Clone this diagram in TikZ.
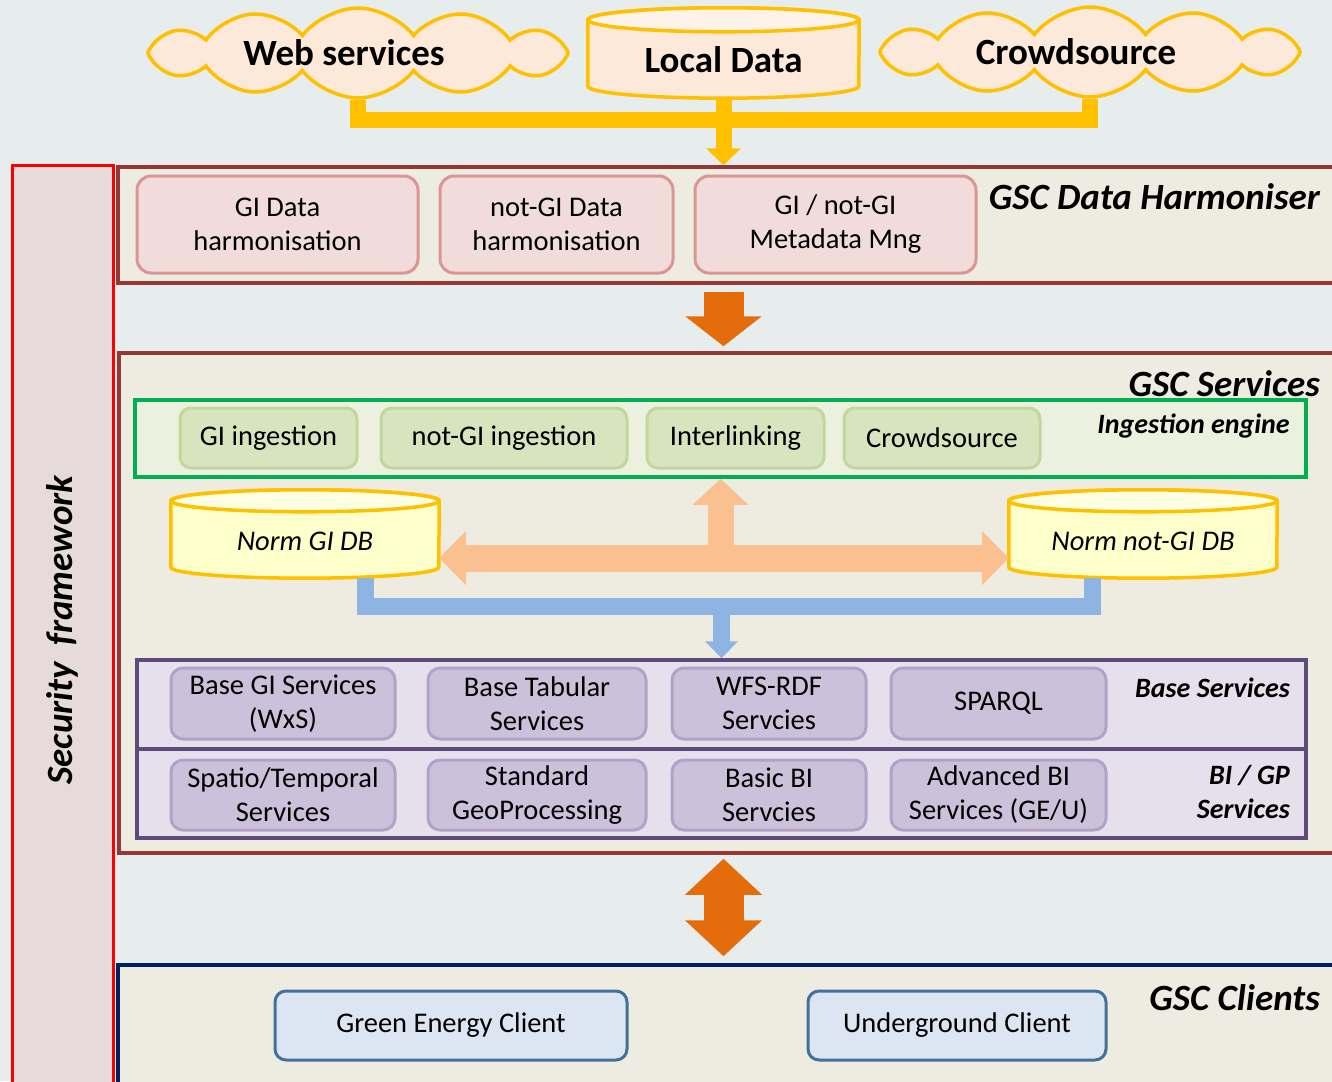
\documentclass[tikz,border=0pt]{standalone}
\usepackage{fontspec}
\setmainfont{Carlito}
\usetikzlibrary{shapes.symbols,arrows.meta}

\definecolor{bgcol}{RGB}{231,236,236}
\definecolor{secfill}{RGB}{230,218,219}
\definecolor{panelfill}{RGB}{238,236,225}
\definecolor{panelred}{RGB}{149,55,53}
\definecolor{pinkfill}{RGB}{242,220,219}
\definecolor{pinkline}{RGB}{217,150,148}
\definecolor{gold}{RGB}{255,192,0}
\definecolor{cloudfill}{RGB}{253,233,217}
\definecolor{cloudtop}{RGB}{254,242,233}
\definecolor{dbfill}{RGB}{255,255,204}
\definecolor{dbtop}{RGB}{255,255,225}
\definecolor{greenframe}{RGB}{0,176,80}
\definecolor{greenpanel}{RGB}{235,241,222}
\definecolor{greenfill}{RGB}{215,228,189}
\definecolor{greenline}{RGB}{195,214,155}
\definecolor{peach}{RGB}{250,192,144}
\definecolor{bluebar}{RGB}{142,180,227}
\definecolor{purpleframe}{RGB}{96,74,123}
\definecolor{purplepanel}{RGB}{229,224,236}
\definecolor{purplefill}{RGB}{204,193,218}
\definecolor{purpleline}{RGB}{179,162,199}
\definecolor{orangearr}{RGB}{228,108,10}
\definecolor{navy}{RGB}{0,32,96}
\definecolor{clientfill}{RGB}{220,230,242}
\definecolor{clientline}{RGB}{65,113,156}

\pgfdeclarelayer{bg}
\pgfdeclarelayer{back}
\pgfsetlayers{bg,back,main}

\tikzset{
  panel/.style={draw=panelred,line width=3.5pt,fill=panelfill,inner sep=0pt},
  title/.style={anchor=east,font=\fontsize{37}{40}\selectfont\bfseries\itshape,inner sep=0pt},
  subtitle/.style={anchor=east,align=right,inner sep=0pt,font=\fontsize{28}{34}\selectfont\bfseries\itshape},
  boxtext/.style={align=center,inner sep=0pt,font=\fontsize{28.5}{34}\selectfont},
  pinkbox/.style={boxtext,draw=pinkline,fill=pinkfill,line width=3pt,rounded corners=14pt,minimum height=97pt},
  greenbox/.style={boxtext,draw=greenline,fill=greenfill,line width=3pt,rounded corners=11pt,minimum height=60pt},
  purplebox/.style={boxtext,draw=purpleline,fill=purplefill,line width=3pt,rounded corners=12pt},
  clientbox/.style={boxtext,draw=clientline,fill=clientfill,line width=3pt,rounded corners=11pt,minimum height=69pt},
  srcfont/.style={font=\fontsize{37}{40}\selectfont\bfseries},
  cloudsrc/.style={srcfont,draw=gold,fill=cloudfill,line width=3.5pt,inner sep=0pt,cloud,cloud puffs=12,cloud puff arc=105,
    cloud ignores aspect,minimum width=420pt,minimum height=90pt},
  canbox/.style={inner sep=0pt},
  localcan/.style={draw=gold,fill=cloudfill,line width=3.5pt},
  dbcan/.style={draw=gold,fill=dbfill,line width=3.5pt},
  dbtext/.style={inner sep=0pt,font=\fontsize{28.5}{34}\selectfont\itshape},
}

% can shape round an empty node: #1 node, #2 x radius, #3 y radius, #4 style, #5 top colour
\newcommand\drawcan[5]{%
  \filldraw[#4] ([yshift=-#3pt]#1.north west) -- ([yshift=#3pt]#1.south west)
    arc[start angle=180,end angle=360,x radius=#2pt,y radius=#3pt]
    -- ([yshift=-#3pt]#1.north east)
    arc[start angle=0,end angle=180,x radius=#2pt,y radius=#3pt] -- cycle;
  \filldraw[#4,fill=#5] ([yshift=-#3pt]#1.north) ellipse[x radius=#2pt,y radius=#3pt];}

\begin{document}
\begin{tikzpicture}[x=1pt,y=-1pt]
\begin{pgfonlayer}{bg}
\fill[bgcol] (0,0) rectangle (1332,1081); %background
\end{pgfonlayer}
\clip (0,0) rectangle (1332,1081);

% data sources
\node[cloudsrc] (websvc) at (358,53) {Web services\hspace*{28pt}};
\node[cloudsrc] (crowdsrc) at (1090,52) {Crowdsource\hspace*{28pt}};
\node[canbox,minimum width=271pt,minimum height=90pt] (localdata) at (723.5,53) {};
\drawcan{localdata}{135.5}{12}{localcan}{cloudtop}
\node[srcfont,inner sep=0pt] (localtxt) at (723.5,60) {Local Data};

% security framework
\node[draw=red,line width=3pt,fill=secfill,rotate=90,minimum width=930pt,minimum height=101pt,
      font=\fontsize{37}{40}\selectfont\bfseries\itshape] (security) at (62.5,630) {Security\ \ framework};

% harmoniser
\node[panel,minimum width=1227pt,minimum height=116pt] (harmoniser) at (731.5,225) {};
\node[title] (harmtitle) at (1320,197) {GSC Data Harmoniser};
\node[pinkbox,minimum width=281pt] (gidata) at (277.5,224.5) {GI Data\\harmonisation};
\node[pinkbox,minimum width=233pt] (notgidata) at (556.5,224.5) {not-GI Data\\harmonisation};
\node[pinkbox,minimum width=281pt] (metadata) at (835.5,224.5) {GI / not-GI\\Metadata Mng};

% services
\node[panel,minimum width=1226pt,minimum height=500pt] (services) at (732,603) {};
\node[title] (servtitle) at (1320,384) {GSC Services};
\node[draw=greenframe,line width=3.5pt,fill=greenpanel,minimum width=1171pt,minimum height=77pt] (ingest) at (720.5,438.5) {};
\node[subtitle] (ingesttitle) at (1290,426) {Ingestion engine};
\node[greenbox,minimum width=177pt] (giing) at (268.5,438) {GI ingestion};
\node[greenbox,minimum width=246pt] (notgiing) at (504,438) {not-GI ingestion};
\node[greenbox,minimum width=177pt] (interlink) at (735.5,438) {Interlinking};
\node[greenbox,minimum width=196pt] (crowding) at (942,438) {Crowdsource};

\node[canbox,minimum width=268pt,minimum height=88pt] (normgi) at (305,534) {};
\drawcan{normgi}{134}{11}{dbcan}{dbtop}
\node[dbtext] (normgitxt) at (305,541) {Norm GI DB};
\node[canbox,minimum width=268pt,minimum height=88pt] (normnotgi) at (1143,534) {};
\drawcan{normnotgi}{134}{11}{dbcan}{dbtop}
\node[dbtext] (normnotgitxt) at (1143,541) {Norm not-GI DB};

\node[draw=purpleframe,line width=3.5pt,fill=purplepanel,minimum width=1169pt,minimum height=178pt] (basesvc) at (721.5,749) {};
\draw[purpleframe,line width=3.5pt] (basesvc.west) -- (basesvc.east);
\node[subtitle] (basetitle) at (1290,688) {Base Services};
\node[subtitle] (bititle) at (1290,792) {BI / GP\\Services};
\node[purplebox,minimum width=224pt,minimum height=71pt] (bsgi) at (283,703.5) {Base GI Services\\(WxS)};
\node[purplebox,minimum width=218pt,minimum height=71pt] (bstab) at (537,703.5) {Base Tabular\\Services};
\node[purplebox,minimum width=194pt,minimum height=71pt] (wfsrdf) at (769,703.5) {WFS-RDF\\Servcies};
\node[purplebox,minimum width=215pt,minimum height=71pt] (sparql) at (998.5,703.5) {SPARQL};
\node[purplebox,minimum width=224pt,minimum height=70pt] (spatio) at (283,795) {Spatio/Temporal\\Services};
\node[purplebox,minimum width=218pt,minimum height=70pt] (stdgeo) at (537,795) {Standard\\GeoProcessing};
\node[purplebox,minimum width=194pt,minimum height=70pt] (basicbi) at (769,795) {Basic BI\\Servcies};
\node[purplebox,minimum width=215pt,minimum height=70pt] (advbi) at (998.5,795) {Advanced BI\\Services (GE/U)};

% clients
\node[draw=navy,line width=3.5pt,fill=panelfill,minimum width=1227pt,minimum height=135pt] (clients) at (731.5,1032.5) {};
\node[title] (clienttitle) at (1320,998) {GSC Clients};
\node[clientbox,minimum width=352pt] (greenclient) at (451,1025.5) {Green Energy Client};
\node[clientbox,minimum width=298pt] (underclient) at (957,1025.5) {Underground Client};

% connectors
\coordinate (ybar) at (0,120);
\begin{pgfonlayer}{back}
\draw[gold,line width=16pt] (websvc) -- (websvc |- ybar) -- (crowdsrc |- ybar) -- (crowdsrc); %behind the clouds
\end{pgfonlayer}
\draw[gold,line width=16pt,-{Triangle[width=34pt,length=17pt]}] (localdata.south) -- (harmoniser.north -| localdata.south);

\draw[orangearr,line width=40pt,-{Triangle[width=75pt,length=30pt]}] ([yshift=-7pt]harmoniser.south -| localdata.south) -- ([yshift=5pt]services.north -| localdata.south);

\coordinate (pbar) at (0,558);
\draw[peach,line width=27pt,{Triangle[width=53pt,length=27pt]}-{Triangle[width=53pt,length=27pt]}] (normgi.east |- pbar) -- (normnotgi.west |- pbar);
\draw[peach,line width=26pt,-{Triangle[width=54pt,length=26pt]}] ([yshift=10pt]ingest.south |- pbar) -- (ingest.south);

\coordinate (bl) at (365,606);
\coordinate (br) at (1092,606);
\draw[bluebar,line width=17pt] (bl |- normgi.south) -- (bl) -- (br) -- (br |- normnotgi.south);
\draw[bluebar,line width=17pt,-{Triangle[width=32pt,length=17pt]}] ([yshift=8pt]basesvc.north |- bl) -- (basesvc.north);

\draw[orangearr,line width=40pt,{Triangle[width=75pt,length=36pt]}-{Triangle[width=75pt,length=36pt]}] ([yshift=-4pt]services.south -| localdata.south) -- ([yshift=7pt]clients.north -| localdata.south);
\end{tikzpicture}
\end{document}
